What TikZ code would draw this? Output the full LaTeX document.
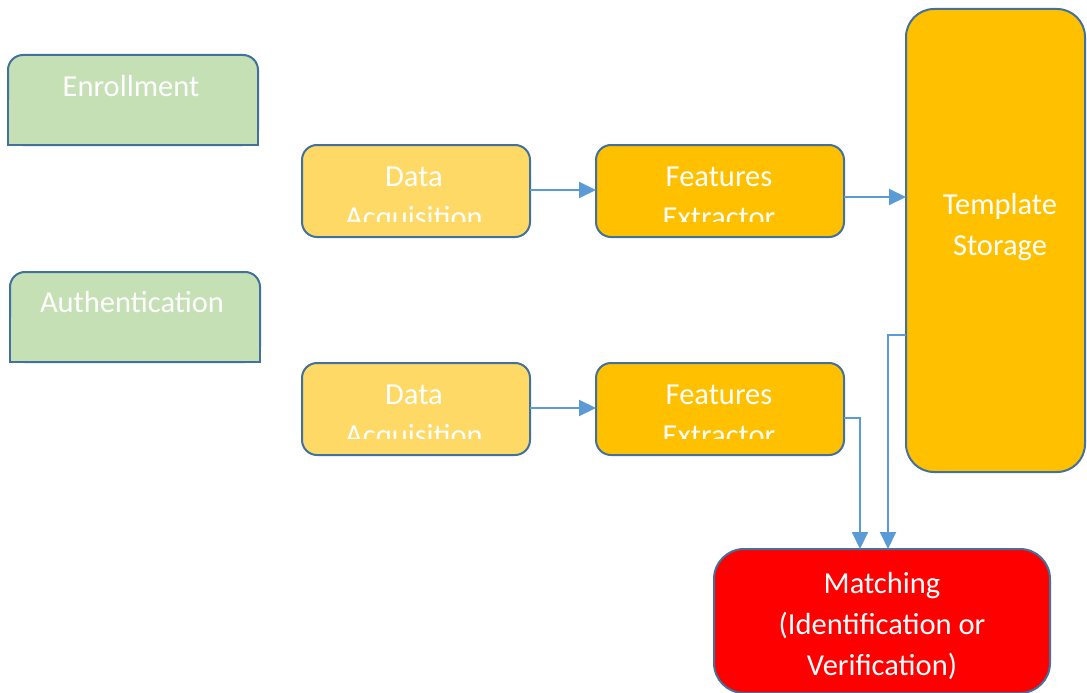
\documentclass[tikz,border=0pt]{standalone}
\usepackage{fontspec}
\setmainfont{Carlito}
\usetikzlibrary{arrows.meta}

\definecolor{edgeblue}{HTML}{41719C}
\definecolor{arrowblue}{HTML}{5B9BD5}
\definecolor{phasegreen}{HTML}{C5E0B4}
\definecolor{acqyellow}{HTML}{FFD966}
\definecolor{procorange}{HTML}{FFC000}
\definecolor{matchred}{HTML}{FF0000}

\begin{document}
\begin{tikzpicture}[x=1pt, y=-1pt,
  box/.style={draw=edgeblue, line width=2pt, inner sep=0pt, outer sep=0pt, anchor=north west},
  phase/.style={box, fill=phasegreen, rounded corners=15pt, minimum width=250pt, minimum height=90pt},
  stage/.style={box, rounded corners=15pt, minimum width=#1, minimum height=92pt},
  lbl/.style={text=white, font=\fontsize{30.5}{41}\selectfont, align=center, inner sep=0pt, anchor=base},
  flow/.style={draw=arrowblue, line width=2pt, -{Triangle[length=17pt,width=16pt]}},
]
\useasboundingbox (0,0) rectangle (1087,693);

% phase headers: rounded top corners, square bottom corners
\node[phase] (enr) at (8,55) {};
\path[fill=phasegreen, draw=edgeblue, line width=2pt]
  (enr.west) -- (enr.south west) -- (enr.south east) -- (enr.east);
\node[lbl] (enrt) at (131,96) {Enrollment};

\node[phase] (auth) at (10,272) {};
\path[fill=phasegreen, draw=edgeblue, line width=2pt]
  (auth.west) -- (auth.south west) -- (auth.south east) -- (auth.east);
\node[lbl] (autht) at (132,312) {Authentication};

% processing stages
\node[stage=228pt, fill=acqyellow] (da1) at (302,145) {};
\node[stage=248pt, fill=procorange] (fe1) at (596,145) {};
\node[stage=228pt, fill=acqyellow] (da2) at (302,363) {};
\node[stage=248pt, fill=procorange] (fe2) at (596,363) {};

% two-line labels, cut off above the lower box edge
\begin{scope}
  \clip (302,145) rectangle (850,221);
  \node[lbl] (da1t) at (414,227) {Data\\Acquisition};
  \node[lbl] (fe1t) at (719,227) {Features\\Extractor};
\end{scope}
\begin{scope}
  \clip (302,363) rectangle (850,438);
  \node[lbl] (da2t) at (414,445) {Data\\Acquisition};
  \node[lbl] (fe2t) at (719,445) {Features\\Extractor};
\end{scope}

% template storage
\node[box, fill=procorange, rounded corners=28pt, minimum width=179pt, minimum height=463pt] (ts) at (906,9) {};
\node[lbl] (tst) at (1000,255) {Template\\Storage};

% matching
\node[box, fill=matchred, rounded corners=30pt, minimum width=336pt, minimum height=144pt] (mt) at (714,549) {};
\node[lbl] (mtt) at (882,675) {Matching\\(Identification or\\Verification)};

% connectors
\coordinate (k1) at (860,418);
\coordinate (k2) at (888,335);
\draw[flow] (da1.east |- 0,190) -- (fe1.west |- 0,190);
\draw[flow] (fe1.east |- 0,197) -- (ts.west |- 0,197);
\draw[flow] (da2.east |- 0,408) -- (fe2.west |- 0,408);
\draw[flow] (fe2.east |- k1) -- (k1) -- (k1 |- mt.north);
\draw[flow] (ts.west |- k2) -- (k2) -- (k2 |- mt.north);
\end{tikzpicture}
\end{document}
